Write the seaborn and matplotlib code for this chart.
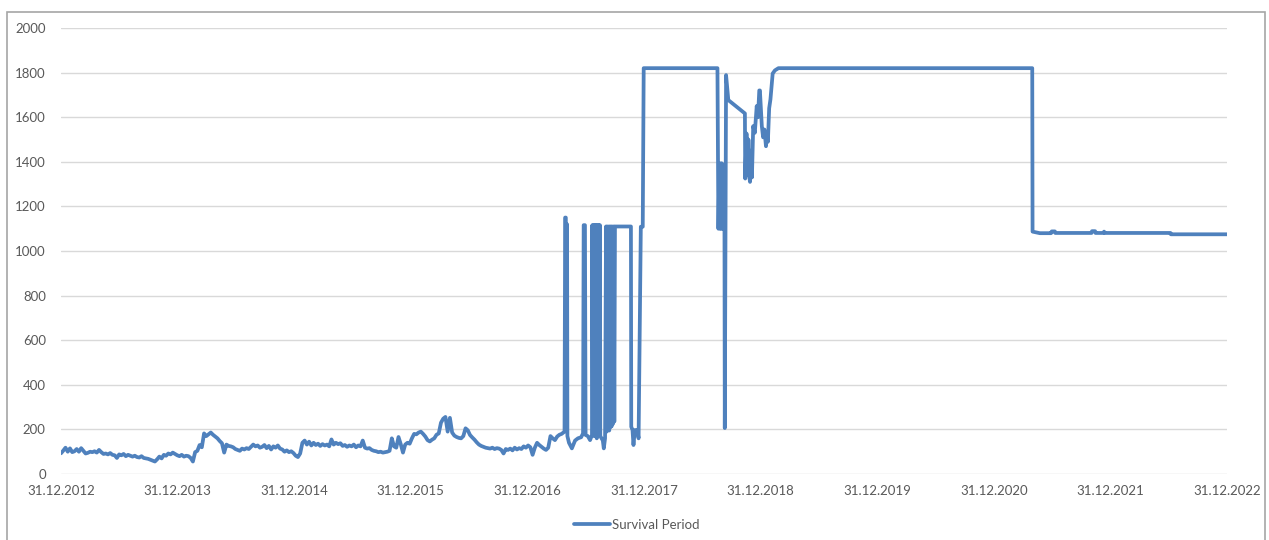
import pandas as pd
import matplotlib.pyplot as plt
from matplotlib.patches import Rectangle
import matplotlib.dates as mdates
import seaborn as sns

# weekly readings, calm part (from 31.12.2012 up to the first spike)
weekly_start = "2012-12-31"
weekly_vals = [
    93, 105, 118, 100, 115, 98, 102, 112, 100, 116,
    104, 92, 95, 100, 98, 102, 96, 108, 98, 90,
    92, 88, 94, 86, 84, 72, 88, 84, 90, 80,
    86, 82, 78, 82, 76, 74, 80, 72, 70, 68,
    64, 60, 56, 66, 78, 70, 86, 82, 92, 88,
    96, 90, 84, 80, 86, 78, 82, 80, 72, 56,
    98, 104, 130, 120, 182, 170, 178, 186, 176, 168,
    160, 148, 138, 96, 132, 126, 124, 120, 112, 108,
    104, 114, 110, 116, 112, 122, 132, 124, 128, 118,
    122, 130, 116, 126, 110, 124, 118, 128, 114, 110,
    100, 106, 98, 102, 94, 82, 76, 92, 140,
    150, 132, 145, 128, 140, 130, 136, 126, 134, 128, 132,
    124, 155, 132, 140, 134, 138, 126, 130, 122, 128,
    124, 132, 120, 128, 124, 150, 118, 114, 116, 108,
    104, 102, 98, 100, 96, 98, 100, 104, 160, 124,
    118, 166, 134, 96, 132, 140, 136, 160, 180, 178,
    186, 190, 180, 168, 152, 146, 154, 160, 176, 182,
    230, 248, 256, 190, 252, 186, 172, 166, 162, 160,
    170, 205, 196, 175, 164, 154, 142, 132, 126, 122,
    118, 116, 114, 118, 112, 116, 114, 108, 92, 112,
    108, 114, 106, 118, 110, 116, 112, 124, 118, 128,
    120, 86, 118, 140, 130, 122, 114, 108, 118, 170,
    160, 152, 168, 176, 180,
]

# individual readings after that
later_dates = [
    "2017-04-26", "2017-04-28", "2017-04-30", "2017-05-01", "2017-05-02", "2017-05-04",
    "2017-05-05", "2017-05-10", "2017-05-19", "2017-05-29", "2017-06-07", "2017-06-17",
    "2017-06-23", "2017-06-25", "2017-06-29", "2017-07-01", "2017-07-08", "2017-07-15",
    "2017-07-21", "2017-07-22", "2017-07-24", "2017-07-26", "2017-07-28", "2017-07-30",
    "2017-08-01", "2017-08-03", "2017-08-05", "2017-08-07", "2017-08-09", "2017-08-11",
    "2017-08-13", "2017-08-15", "2017-08-16", "2017-08-24", "2017-08-27", "2017-08-31",
    "2017-09-03", "2017-09-05", "2017-09-07", "2017-09-09", "2017-09-11", "2017-09-13",
    "2017-09-15", "2017-09-17", "2017-09-19", "2017-09-21", "2017-09-23", "2017-09-25",
    "2017-09-27", "2017-09-29", "2017-10-01", "2017-11-20", "2017-11-21", "2017-11-25",
    "2017-11-28", "2017-12-02", "2017-12-10", "2017-12-14", "2017-12-21", "2017-12-27",
    "2017-12-30", "2018-08-18", "2018-08-21", "2018-08-24", "2018-08-26", "2018-08-28",
    "2018-08-30", "2018-09-01", "2018-09-03", "2018-09-05", "2018-09-09", "2018-09-10",
    "2018-09-14", "2018-09-21", "2018-11-12", "2018-11-13", "2018-11-17", "2018-11-20",
    "2018-11-23", "2018-11-26", "2018-11-28", "2018-12-01", "2018-12-04", "2018-12-08",
    "2018-12-13", "2018-12-19", "2018-12-23", "2018-12-27", "2018-12-29", "2019-01-04",
    "2019-01-08", "2019-01-12", "2019-01-17", "2019-01-20", "2019-01-23", "2019-01-27",
    "2019-01-31", "2019-02-07", "2019-02-14", "2019-02-25", "2021-04-30", "2021-05-01",
    "2021-05-24", "2021-06-28", "2021-06-30", "2021-07-10", "2021-07-11", "2021-11-02",
    "2021-11-03", "2021-11-13", "2021-11-14", "2021-12-10", "2021-12-11", "2021-12-13",
    "2022-07-07", "2022-07-08", "2022-12-31",
]
later_vals = [
    190, 1150, 1150, 200, 1120, 1120,
    170, 140, 115, 150, 160, 165,
    182, 1116, 1116, 175, 170, 152,
    175, 1116, 180, 1116, 170, 1116,
    190, 1116, 160, 1116, 185, 1116,
    175, 1116, 170, 150, 115, 160,
    1110, 190, 1110, 200, 1110, 195,
    1110, 210, 1110, 215, 1110, 225,
    1110, 235, 1110, 1110, 212, 197,
    130, 197, 197, 160, 1109, 1109,
    1820, 1820, 1100, 1393, 1100, 1393,
    1100, 1393, 1100, 1200, 1100, 206,
    1789, 1677, 1617, 1325, 1527, 1340,
    1500, 1330, 1310, 1450, 1330, 1560,
    1530, 1650, 1600, 1720, 1720, 1560,
    1510, 1545, 1470, 1520, 1490, 1640,
    1680, 1796, 1810, 1820, 1820, 1087,
    1080, 1080, 1088, 1088, 1081, 1081,
    1089, 1089, 1081, 1081, 1087, 1081,
    1081, 1075, 1075,
]

tick_years = list(range(2012, 2023))

dates = list(pd.date_range(weekly_start, periods=len(weekly_vals), freq="7D")) + list(pd.to_datetime(later_dates))
df = pd.DataFrame({"Date": dates, "Survival Period": weekly_vals + later_vals})

sns.set_style("white")
plt.rcParams["font.family"] = ["Lato", "DejaVu Sans"]

fig = plt.figure(figsize=(12.69, 5.40), dpi=100)
ax = fig.add_axes([0.0481, 0.1222, 0.9188, 0.8259])

sns.lineplot(data=df, x="Date", y="Survival Period", color="#4f81bd", linewidth=2.7,
             label="Survival Period", ax=ax)

ax.set_ylim(0, 2000)
ax.set_yticks(range(0, 2001, 200))
ax.set_xlim(pd.Timestamp("2012-12-31"), pd.Timestamp("2022-12-31"))
ax.set_xticks([pd.Timestamp(f"{y}-12-31") for y in tick_years])
ax.xaxis.set_major_formatter(mdates.DateFormatter("%d.%m.%Y"))

ax.set_axisbelow(True)
ax.yaxis.grid(True, color="#d9d9d9", linewidth=1)
ax.xaxis.grid(False)
for s in ax.spines.values():
    s.set_visible(False)
ax.set_xlabel("")
ax.set_ylabel("")
ax.tick_params(axis="y", length=0, pad=11, labelsize=9.5, labelcolor="#595959")
ax.tick_params(axis="x", length=0, pad=8, labelsize=9.5, labelcolor="#595959")

handles, labels = ax.get_legend_handles_labels()
ax.get_legend().remove()
fig.legend(handles, labels, loc="center", bbox_to_anchor=(0.502, 0.028), frameon=False,
           fontsize=9.5, labelcolor="#595959", handlelength=2.7, handletextpad=0.2)

# chart area border like the spreadsheet frame
fig.patches.append(Rectangle((0.0055, -0.02), 0.9913, 0.998, transform=fig.transFigure,
                             fill=False, edgecolor="#a6a6a6", linewidth=1.2))

plt.savefig("out.png", dpi=100)
